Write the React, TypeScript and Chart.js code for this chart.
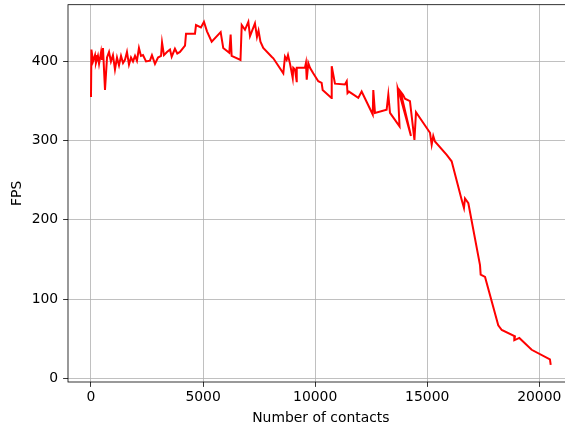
import React, { useEffect, useRef } from "react";
import { Chart, registerables } from "chart.js";

Chart.register(...registerables);

const contacts = [
  0, 20, 90, 180, 220, 310, 360, 450, 490, 535, 625, 715, 805, 890, 980, 1070, 1160, 1250, 1340, 1430,
  1515, 1605, 1695, 1785, 1875, 1965, 2050, 2140, 2230, 2320, 2455, 2630, 2720, 2855, 2990, 3125, 3170,
  3255, 3390, 3525, 3600, 3745, 3850, 3970, 4195, 4240, 4640, 4685, 4905, 5040, 5175, 5385, 5785, 5900, 6170, 6230,
  6275, 6670, 6725, 6870, 7020, 7095, 7315, 7405, 7475, 7560, 7685, 8060, 8135, 8580, 8655, 8730, 8790,
  8880, 9000, 9025, 9100, 9175, 9180, 9545, 9590, 9625, 9695, 9770, 9915, 10140, 10290, 10335, 10730,
  10740, 10885, 11330, 11410, 11445, 11510, 11925, 12075, 12570, 12595, 12670, 13190, 13265, 13340,
  13765, 13685, 13765, 14275, 13810, 13920, 14010, 14230, 14430, 14500, 15125, 15200, 15270, 15345,
  15870, 16090, 16540, 16640, 16685, 16835, 17355, 17385, 17580, 18170, 18325, 18915, 18885, 19110,
  19660, 20475, 20510,
];

const fps = [
  355, 415, 400, 408, 398, 407, 397, 412, 402, 417, 364, 405, 412, 400, 408, 390, 405, 395, 407, 398,
  402, 412, 396, 405, 400, 407, 401, 417, 407, 408, 400, 401, 408, 397, 405, 407, 424,
  408, 412, 415, 406, 416, 410, 412, 420, 435, 435, 446, 443, 450, 438, 425, 437, 417, 411, 434,
  407, 402, 446, 440, 450, 432, 448, 431, 439, 425, 417, 406, 404, 385, 406, 402, 408,
  397, 379, 392, 390, 375, 392, 392, 398, 377, 398, 392, 385, 375, 373, 364, 354,
  394, 372, 371, 375, 360, 362, 354, 362, 333, 364, 335, 339, 358, 335,
  318, 366, 359, 306, 362, 358, 353, 350, 301, 336, 310, 295, 306, 299,
  282, 274, 225, 215, 227, 221, 143, 131, 128, 67, 61, 53, 48, 51,
  36, 24, 17,
];

const xTickValues = [0, 5000, 10000, 15000, 20000];
const yTickValues = [0, 100, 200, 300, 400];
const xLabel = "Number of contacts";
const yLabel = "FPS";

const FONT = { family: "'DejaVu Sans', sans-serif", size: 13.9 };

const framePlugin = {
  id: "frame",
  afterDatasetsDraw(chart: any) {
    const { ctx, chartArea } = chart;
    const { left, top, right, bottom } = chartArea;
    ctx.save();
    ctx.strokeStyle = "#000";
    ctx.lineWidth = 0.8;
    ctx.strokeRect(left, top, right - left, bottom - top);
    ctx.restore();
  },
};

export default function App() {
  const ref = useRef<HTMLCanvasElement | null>(null);

  useEffect(() => {
    if (!ref.current) return;
    const xMinD = Math.min(...contacts);
    const xMaxD = Math.max(...contacts);
    const yMinD = Math.min(...fps);
    const yMaxD = Math.max(...fps);
    const xm = (xMaxD - xMinD) * 0.05;
    const ym = (yMaxD - yMinD) * 0.05;
    const points = contacts.map((x, i) => ({ x, y: fps[i] }));

    const chart = new Chart(ref.current, {
      type: "line",
      data: {
        datasets: [
          {
            data: points,
            borderColor: "#ff0000",
            borderWidth: 2,
            pointRadius: 0,
            tension: 0,
            fill: false,
          },
        ],
      },
      options: {
        animation: false,
        responsive: false,
        devicePixelRatio: 1,
        layout: { padding: { left: 0, top: 4.7, right: 26.3, bottom: 0 } },
        plugins: { legend: { display: false }, tooltip: { enabled: false } },
        scales: {
          x: {
            type: "linear",
            min: xMinD - xm,
            max: xMaxD + xm,
            afterBuildTicks: (s: any) => {
              s.ticks = xTickValues.map((v) => ({ value: v }));
            },
            afterFit: (s: any) => {
              s.height = 47;
              s.paddingLeft = 0;
              s.paddingRight = 0;
            },
            grid: {
              color: "#b0b0b0",
              lineWidth: 0.8,
              tickColor: "#000",
              tickLength: 4.9,
              tickWidth: 0.8,
            },
            border: { display: false },
            ticks: {
              color: "#000",
              font: FONT,
              padding: 2.5,
              maxRotation: 0,
              autoSkip: false,
              callback: (v: any) => String(v),
            },
            title: {
              display: true,
              text: xLabel,
              color: "#000",
              font: FONT,
              padding: { top: 0, bottom: 2 },
            },
          },
          y: {
            type: "linear",
            min: yMinD - ym,
            max: yMaxD + ym,
            afterBuildTicks: (s: any) => {
              s.ticks = yTickValues.map((v) => ({ value: v }));
            },
            afterFit: (s: any) => {
              s.width = 68;
              s.paddingTop = 0;
              s.paddingBottom = 0;
            },
            grid: {
              color: "#b0b0b0",
              lineWidth: 0.8,
              tickColor: "#000",
              tickLength: 4.9,
              tickWidth: 0.8,
            },
            border: { display: false },
            ticks: {
              color: "#000",
              font: FONT,
              padding: 4.9,
              autoSkip: false,
              callback: (v: any) => String(v),
            },
            title: {
              display: true,
              text: yLabel,
              color: "#000",
              font: FONT,
              padding: { top: 9, bottom: 0 },
            },
          },
        },
      },
      plugins: [framePlugin],
    });
    return () => chart.destroy();
  }, []);

  return (
    <div
      style={{
        position: "fixed",
        left: 0,
        top: 0,
        width: 565,
        height: 429,
        overflow: "hidden",
        background: "#fff",
      }}
    >
      <canvas ref={ref} width={600} height={429} style={{ display: "block" }} />
    </div>
  );
}
